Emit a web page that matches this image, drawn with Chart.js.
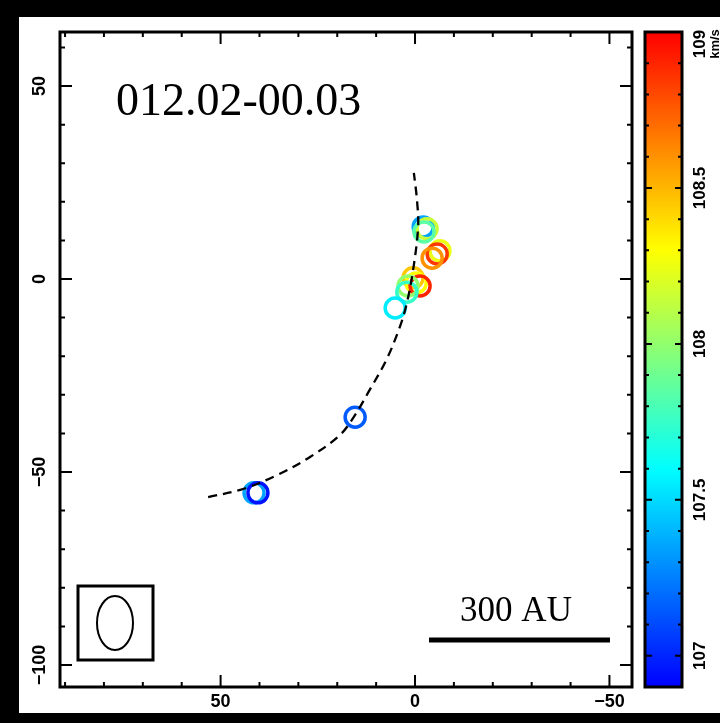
<!DOCTYPE html>
<html lang="en">
<head>
<meta charset="UTF-8" />
<title>012.02-00.03</title>
<script src="https://cdn.jsdelivr.net/npm/chart.js"></script>
<style>
  html, body { margin: 0; padding: 0; background: #000; }
  #wrap { width: 720px; height: 723px; }
</style>
</head>
<body>
<div id="wrap"><canvas id="map" width="720" height="723"></canvas></div>
<script>
// maser spots: offsets (reversed x) and line-of-sight velocity (km/s)
const spotX = [-2.1, -3.1, -2.3, -6.4, -5.7, -4.4, 0.5, -0.3, -1.3, 1.8, 2.1, 5.1, 15.4, 41.4, 40.4];
const spotY = [13.5, 13.0, 12.2, 7.3, 6.5, 5.4, 0.3, -1.0, -1.8, -1.8, -3.4, -7.5, -35.8, -55.4, -55.4];
const spotV = [107.35, 108.15, 107.85, 108.25, 108.85, 108.6, 108.45, 108.3, 108.9, 108.0, 107.75, 107.55, 107.15, 107.35, 106.95];

// dashed arc
const arcX = [53.2, 44.2, 35.5, 27.0, 19.3, 15.4, 12.1, 7.4, 3.9, 2.1, 0.5, -0.8, -0.5, 0.3];
const arcY = [-56.5, -54.4, -50.8, -46.1, -40.4, -35.2, -29.5, -21.0, -12.4, -6.2, 2.3, 13.5, 20.5, 27.5];

// axis ticks
const xMajor = [50, 0, -50];
const xMinor = [90, 80, 70, 60, 40, 30, 20, 10, -10, -20, -30, -40];
const yMajor = [50, 0, -50, -100];
const yMinor = [60, 40, 30, 20, 10, -10, -20, -30, -40, -60, -70, -80, -90];
const xLabels = ["50", "0", "\u221250"];
const yLabels = ["50", "0", "\u221250", "\u2212100"];

// colour bar
const cbMajor = [109, 108.5, 108, 107.5, 107];
const cbLabels = ["109", "108.5", "108", "107.5", "107"];
const cbMinor = [108.9, 108.8, 108.7, 108.6, 108.4, 108.3, 108.2, 108.1, 107.9, 107.8, 107.7, 107.6, 107.4, 107.3, 107.2, 107.1];
const cbStopV = [106.9, 107.6, 108.3, 109];
const cbStopC = [[0, 0, 255], [0, 255, 255], [255, 255, 0], [255, 0, 0]];

function velColor(v) {
  if (v <= cbStopV[0]) return "rgb(" + cbStopC[0].join(",") + ")";
  for (let i = 1; i < cbStopV.length; i++) {
    if (v <= cbStopV[i]) {
      const t = (v - cbStopV[i - 1]) / (cbStopV[i] - cbStopV[i - 1]);
      const a = cbStopC[i - 1], b = cbStopC[i];
      const c = a.map((k, j) => Math.round(k + (b[j] - k) * t));
      return "rgb(" + c.join(",") + ")";
    }
  }
  return "rgb(" + cbStopC[cbStopC.length - 1].join(",") + ")";
}

const spots = spotX.map((x, i) => ({ x: x, y: spotY[i] }));
const arc = arcX.map((x, i) => ({ x: x, y: arcY[i] }));

function rotText(ctx, txt, x, y) {
  ctx.save();
  ctx.translate(x, y);
  ctx.rotate(-Math.PI / 2);
  ctx.fillText(txt, 0, 0);
  ctx.restore();
}

// background, frame, ticks, annotations and colour bar
const decor = {
  id: "decor",
  beforeDraw(chart) {
    const ctx = chart.ctx;
    ctx.save();
    ctx.fillStyle = "#000";
    ctx.fillRect(0, 0, 720, 723);
    ctx.fillStyle = "#fff";
    ctx.fillRect(19, 17, 701, 696);
    ctx.restore();
  },
  beforeDatasetsDraw(chart) {
    // slight softness on the rings, as in the original raster
    chart.ctx.save();
    chart.ctx.filter = "blur(0.6px)";
  },
  afterDatasetsDraw(chart) {
    chart.ctx.restore();
  },
  afterDraw(chart) {
    const ctx = chart.ctx;
    const a = chart.chartArea;
    const sx = chart.scales.x, sy = chart.scales.y, cb = chart.scales.cb;
    ctx.save();
    ctx.strokeStyle = "#000";
    ctx.fillStyle = "#000";

    // ticks, inward on all four sides
    ctx.lineWidth = 2;
    const tickX = (vals, len) => vals.forEach(v => {
      const px = sx.getPixelForValue(v);
      ctx.beginPath();
      ctx.moveTo(px, a.bottom); ctx.lineTo(px, a.bottom - len);
      ctx.moveTo(px, a.top); ctx.lineTo(px, a.top + len);
      ctx.stroke();
    });
    const tickY = (vals, len) => vals.forEach(v => {
      const py = sy.getPixelForValue(v);
      ctx.beginPath();
      ctx.moveTo(a.left, py); ctx.lineTo(a.left + len, py);
      ctx.moveTo(a.right, py); ctx.lineTo(a.right - len, py);
      ctx.stroke();
    });
    tickX(xMajor, 12); tickX(xMinor, 5);
    tickY(yMajor, 12); tickY(yMinor, 5);

    ctx.lineWidth = 3;
    ctx.strokeRect(a.left, a.top, a.right - a.left, a.bottom - a.top);

    // tick labels
    ctx.font = "bold 18px 'Liberation Sans', Arial, sans-serif";
    ctx.textAlign = "center";
    ctx.textBaseline = "middle";
    xMajor.forEach((v, i) => ctx.fillText(xLabels[i], sx.getPixelForValue(v), a.bottom + 15));
    yMajor.forEach((v, i) => rotText(ctx, yLabels[i], a.left - 20, sy.getPixelForValue(v)));

    // source name
    ctx.font = "46px 'Liberation Serif', 'Times New Roman', serif";
    ctx.textAlign = "left";
    ctx.textBaseline = "alphabetic";
    ctx.fillText("012.02-00.03", 116, 115);

    // beam
    ctx.lineWidth = 3;
    ctx.strokeRect(78, 586, 75, 74);
    ctx.lineWidth = 2;
    ctx.beginPath();
    ctx.ellipse(115, 623, 18, 27, 0, 0, Math.PI * 2);
    ctx.stroke();

    // scale bar
    ctx.font = "35px 'Liberation Serif', 'Times New Roman', serif";
    ctx.textAlign = "center";
    ctx.fillText("300 AU", 516, 621);
    ctx.lineWidth = 5;
    ctx.beginPath();
    ctx.moveTo(429, 640); ctx.lineTo(610, 640);
    ctx.stroke();

    // colour bar
    const cx0 = 645, cx1 = 682;
    const top = cb.getPixelForValue(109), bot = cb.getPixelForValue(106.9);
    const g = ctx.createLinearGradient(0, bot, 0, top);
    cbStopV.forEach((v, i) => g.addColorStop((v - 106.9) / (109 - 106.9), "rgb(" + cbStopC[i].join(",") + ")"));
    ctx.fillStyle = g;
    ctx.fillRect(cx0, top, cx1 - cx0, bot - top);
    ctx.fillStyle = "#000";
    ctx.lineWidth = 2;
    const tickC = (vals, len) => vals.forEach(v => {
      const py = cb.getPixelForValue(v);
      ctx.beginPath();
      ctx.moveTo(cx0, py); ctx.lineTo(cx0 + len, py);
      ctx.moveTo(cx1, py); ctx.lineTo(cx1 - len, py);
      ctx.stroke();
    });
    tickC(cbMajor.slice(1), 7); tickC(cbMinor, 4);
    ctx.lineWidth = 3;
    ctx.strokeRect(cx0, top, cx1 - cx0, bot - top);

    ctx.font = "bold 17px 'Liberation Sans', Arial, sans-serif";
    ctx.textBaseline = "middle";
    cbMajor.forEach((v, i) => {
      let py = cb.getPixelForValue(v);
      if (i === 0) py = top + 12;
      rotText(ctx, cbLabels[i], 700, py);
    });
    ctx.font = "bold 13px 'Liberation Sans', Arial, sans-serif";
    rotText(ctx, "km/s", 715, 44);
    ctx.restore();
  }
};

new Chart(document.getElementById("map"), {
  type: "scatter",
  data: {
    datasets: [
      {
        type: "line",
        data: arc,
        borderColor: "#000",
        borderWidth: 2.3,
        borderDash: [9, 6],
        pointRadius: 0,
        tension: 0.35,
        fill: false,
        order: 0
      },
      {
        data: spots,
        pointStyle: "circle",
        pointRadius: 10,
        pointBorderWidth: 3.5,
        pointBackgroundColor: "rgba(0,0,0,0)",
        pointBorderColor: spotV.map(velColor),
        order: 1
      }
    ]
  },
  options: {
    responsive: false,
    animation: false,
    layout: { padding: { left: 60, right: 88, top: 32, bottom: 36 } },
    plugins: { legend: { display: false }, tooltip: { enabled: false } },
    scales: {
      x: { type: "linear", reverse: true, min: -55.8, max: 91.3, display: false },
      y: { type: "linear", min: -105.7, max: 64, display: false },
      cb: { type: "linear", position: "right", min: 106.9, max: 109, display: false }
    }
  },
  plugins: [decor]
});
</script>
</body>
</html>
